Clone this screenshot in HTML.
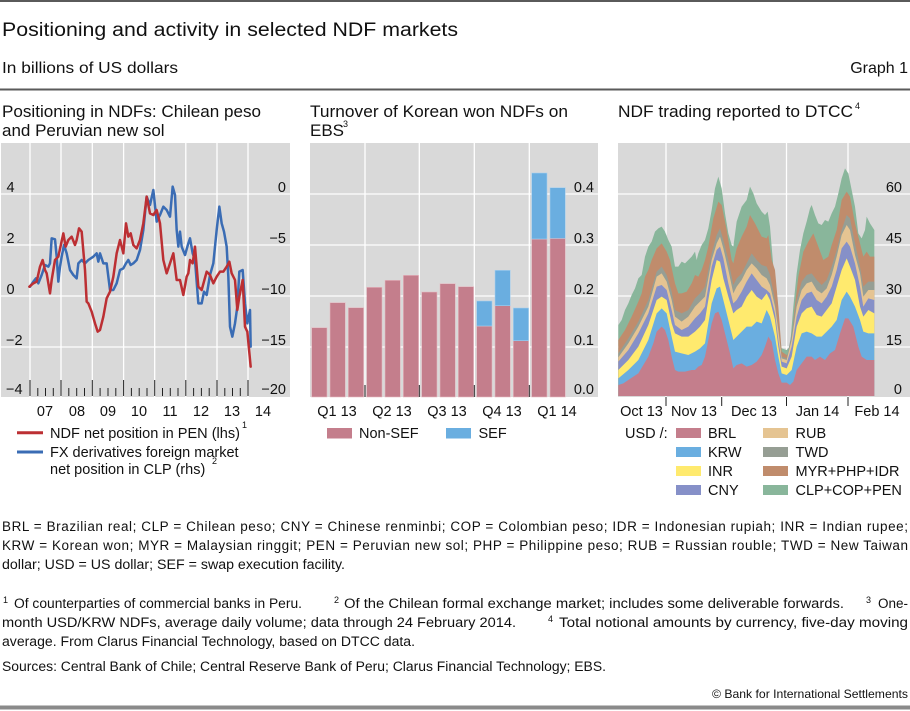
<!DOCTYPE html>
<html><head><meta charset="utf-8"><style>
html,body{margin:0;padding:0;background:#fff;}
svg{display:block;font-family:"Liberation Sans",Arial,sans-serif;}
</style></head><body>
<svg width="910" height="711" viewBox="0 0 910 711" xmlns="http://www.w3.org/2000/svg">
<rect x="0" y="0" width="910" height="711" fill="#fff"/>
<!-- header rules -->
<rect x="0" y="0" width="910" height="2" fill="#5a5a5a"/>
<rect x="0" y="88.5" width="910" height="2" fill="#5a5a5a"/>
<text x="2" y="36" font-size="19" fill="#111" textLength="456" lengthAdjust="spacingAndGlyphs">Positioning and activity in selected NDF markets</text>
<text x="2" y="73" font-size="16" fill="#111" textLength="176" lengthAdjust="spacingAndGlyphs">In billions of US dollars</text>
<text x="908" y="73" font-size="16" fill="#111" text-anchor="end">Graph 1</text>

<!-- ============ PANEL 1 ============ -->
<text x="2" y="117" font-size="17" fill="#111" textLength="259" lengthAdjust="spacingAndGlyphs">Positioning in NDFs: Chilean peso</text>
<text x="2" y="136" font-size="17" fill="#111">and Peruvian new sol</text>
<rect x="1" y="143" width="289" height="254" fill="#d9d9d9"/>
<g stroke="#fff" stroke-width="1.3">
<line x1="1" y1="194" x2="290" y2="194"/><line x1="1" y1="245" x2="290" y2="245"/>
<line x1="1" y1="296" x2="290" y2="296"/><line x1="1" y1="347" x2="290" y2="347"/>
<line x1="30" y1="143" x2="30" y2="397"/><line x1="61" y1="143" x2="61" y2="397"/>
<line x1="92.3" y1="143" x2="92.3" y2="397"/><line x1="123.6" y1="143" x2="123.6" y2="397"/>
<line x1="154.7" y1="143" x2="154.7" y2="397"/><line x1="185.8" y1="143" x2="185.8" y2="397"/>
<line x1="217" y1="143" x2="217" y2="397"/><line x1="248" y1="143" x2="248" y2="397"/>
</g>
<g stroke="#222" stroke-width="1">
<line x1="30" y1="380" x2="30" y2="396"/><line x1="61" y1="380" x2="61" y2="396"/>
<line x1="92.3" y1="380" x2="92.3" y2="396"/><line x1="123.6" y1="380" x2="123.6" y2="396"/>
<line x1="154.7" y1="380" x2="154.7" y2="396"/><line x1="185.8" y1="380" x2="185.8" y2="396"/>
<line x1="217" y1="380" x2="217" y2="396"/><line x1="248" y1="380" x2="248" y2="396"/>
<line x1="37.8" y1="388" x2="37.8" y2="396"/><line x1="45.5" y1="388" x2="45.5" y2="396"/><line x1="53.3" y1="388" x2="53.3" y2="396"/>
<line x1="68.8" y1="388" x2="68.8" y2="396"/><line x1="76.7" y1="388" x2="76.7" y2="396"/><line x1="84.5" y1="388" x2="84.5" y2="396"/>
<line x1="100.1" y1="388" x2="100.1" y2="396"/><line x1="108" y1="388" x2="108" y2="396"/><line x1="115.8" y1="388" x2="115.8" y2="396"/>
<line x1="131.4" y1="388" x2="131.4" y2="396"/><line x1="139.2" y1="388" x2="139.2" y2="396"/><line x1="147" y1="388" x2="147" y2="396"/>
<line x1="162.5" y1="388" x2="162.5" y2="396"/><line x1="170.3" y1="388" x2="170.3" y2="396"/><line x1="178" y1="388" x2="178" y2="396"/>
<line x1="193.6" y1="388" x2="193.6" y2="396"/><line x1="201.4" y1="388" x2="201.4" y2="396"/><line x1="209.2" y1="388" x2="209.2" y2="396"/>
<line x1="224.8" y1="388" x2="224.8" y2="396"/><line x1="232.5" y1="388" x2="232.5" y2="396"/><line x1="240.3" y1="388" x2="240.3" y2="396"/>
</g>
<g font-size="14.5" fill="#111">
<text x="6.5" y="192">4</text><text x="6.5" y="243">2</text><text x="6.5" y="294">0</text>
<text x="6" y="345">−2</text><text x="6" y="394">−4</text>
</g>
<g font-size="14.5" fill="#111" text-anchor="end">
<text x="286" y="192">0</text><text x="286" y="243">−5</text><text x="286" y="294">−10</text>
<text x="286" y="345">−15</text><text x="286" y="394">−20</text>
</g>
<g font-size="14.5" fill="#111" text-anchor="middle">
<text x="45" y="416">07</text><text x="77" y="416">08</text><text x="108" y="416">09</text>
<text x="139" y="416">10</text><text x="170" y="416">11</text><text x="201" y="416">12</text>
<text x="232" y="416">13</text><text x="263" y="416">14</text>
</g>
<g transform="translate(0,90) scale(0.333333)" fill="none" stroke-width="7.5" stroke-linejoin="round" stroke-linecap="round">
<path stroke="#3a6cb4" d="M90,590 L100,575 L108,565 L115,580 L125,555 L135,525 L145,530 L150,520 L155,445 L165,448 L170,500 L175,575 L180,530 L185,500 L192,465 L200,490 L210,540 L220,555 L230,565 L235,520 L245,510 L255,520 L265,510 L280,500 L290,490 L295,515 L300,490 L310,520 L320,520 L330,600 L340,600 L350,580 L360,540 L370,535 L378,520 L385,510 L392,525 L400,520 L410,510 L420,480 L430,420 L440,320 L450,345 L460,300 L470,395 L480,375 L490,350 L500,360 L510,380 L518,290 L525,315 L530,420 L535,470 L540,425 L545,470 L555,495 L565,460 L570,445 L578,490 L585,510 L595,640 L605,640 L612,605 L620,615 L630,555 L640,520 L650,420 L658,350 L665,400 L672,425 L680,470 L685,560 L690,710 L697,740 L705,700 L712,650 L718,545 L728,540 L735,640 L742,700 L750,660 L752,770"/>
<path stroke="#bc2f33" d="M88,590 L100,580 L110,575 L120,530 L128,510 L135,540 L140,550 L150,610 L155,570 L165,510 L175,500 L190,430 L197,470 L205,450 L215,440 L225,465 L230,450 L237,415 L245,425 L255,540 L260,635 L265,640 L275,665 L285,700 L293,725 L300,720 L310,680 L320,625 L330,605 L340,560 L350,490 L360,450 L370,490 L378,400 L385,440 L392,430 L400,465 L410,475 L420,450 L430,400 L440,320 L450,370 L460,375 L470,360 L480,400 L490,510 L500,550 L510,520 L520,490 L530,570 L540,570 L550,615 L560,560 L565,550 L570,510 L578,520 L585,470 L595,590 L605,600 L620,545 L630,555 L640,580 L650,560 L660,545 L670,545 L680,530 L688,515 L695,550 L705,570 L712,660 L718,620 L728,570 L735,710 L742,725 L752,830"/>
</g>
<line x1="17" y1="432.7" x2="43" y2="432.7" stroke="#bc2f33" stroke-width="3"/>
<line x1="17" y1="452" x2="43" y2="452" stroke="#3a6cb4" stroke-width="3"/>
<g font-size="14.5" fill="#111">
<text x="50" y="438" textLength="190" lengthAdjust="spacingAndGlyphs">NDF net position in PEN (lhs)</text>
<text x="242" y="428" font-size="9">1</text>
<text x="50" y="457">FX derivatives foreign market</text>
<text x="50" y="474">net position in CLP (rhs)</text>
<text x="212" y="464" font-size="9">2</text>
</g>

<!-- ============ PANEL 2 ============ -->
<text x="310" y="117" font-size="17" fill="#111" textLength="258" lengthAdjust="spacingAndGlyphs">Turnover of Korean won NDFs on</text>
<text x="310" y="136" font-size="17" fill="#111">EBS</text>
<text x="343" y="127" font-size="9" fill="#111">3</text>
<rect x="310" y="143" width="288" height="254" fill="#d9d9d9"/>
<g stroke="#fff" stroke-width="1.3">
<line x1="310" y1="194" x2="598" y2="194"/><line x1="310" y1="245" x2="598" y2="245"/>
<line x1="310" y1="296" x2="598" y2="296"/><line x1="310" y1="347" x2="598" y2="347"/>
<line x1="365" y1="143" x2="365" y2="397"/><line x1="419.3" y1="143" x2="419.3" y2="397"/>
<line x1="474.3" y1="143" x2="474.3" y2="397"/><line x1="529.3" y1="143" x2="529.3" y2="397"/>
</g>
<g stroke="#e6b9c2" stroke-width="0.6" fill="#c47e8c">
<rect x="311.7" y="327.7" width="15.3" height="69.3"/>
<rect x="330" y="302.7" width="15.3" height="94.3"/>
<rect x="348.3" y="307.7" width="15.3" height="89.3"/>
<rect x="366.7" y="287.3" width="15.3" height="109.7"/>
<rect x="385" y="280.3" width="15.3" height="116.7"/>
<rect x="403.3" y="275.3" width="15.3" height="121.7"/>
<rect x="421.7" y="292" width="15.3" height="105"/>
<rect x="440" y="283.7" width="15.3" height="113.3"/>
<rect x="458.3" y="286.7" width="15.3" height="110.3"/>
<rect x="476.7" y="326" width="15.3" height="71"/>
<rect x="495" y="305.7" width="15.3" height="91.3"/>
<rect x="513.3" y="340.7" width="15.3" height="56.3"/>
<rect x="531.7" y="239" width="15.3" height="158"/>
<rect x="550" y="238.3" width="15.3" height="158.7"/>
</g>
<g stroke="#a9d0ee" stroke-width="0.6" fill="#6aaee0">
<rect x="476.7" y="301" width="15.3" height="25"/>
<rect x="495" y="270.3" width="15.3" height="35.4"/>
<rect x="513.3" y="308" width="15.3" height="32.7"/>
<rect x="531.7" y="173" width="15.3" height="66"/>
<rect x="550" y="187.7" width="15.3" height="50.6"/>
</g>
<g stroke="#222" stroke-width="1">
<line x1="365" y1="385" x2="365" y2="397"/><line x1="419.3" y1="385" x2="419.3" y2="397"/>
<line x1="474.3" y1="385" x2="474.3" y2="397"/><line x1="529.3" y1="385" x2="529.3" y2="397"/>
</g>
<g font-size="14.5" fill="#111" text-anchor="end">
<text x="594" y="192">0.4</text><text x="594" y="243">0.3</text><text x="594" y="294">0.2</text>
<text x="594" y="345">0.1</text><text x="594" y="394">0.0</text>
</g>
<g font-size="14.5" fill="#111" text-anchor="middle">
<text x="337" y="416">Q1 13</text><text x="392" y="416">Q2 13</text><text x="447" y="416">Q3 13</text>
<text x="502" y="416">Q4 13</text><text x="557" y="416">Q1 14</text>
</g>
<rect x="327" y="428" width="25" height="10.5" fill="#c47e8c"/>
<text x="359" y="438" font-size="14.5" fill="#111">Non-SEF</text>
<rect x="446" y="428" width="25" height="10.5" fill="#6aaee0"/>
<text x="478.5" y="438" font-size="14.5" fill="#111">SEF</text>

<!-- ============ PANEL 3 ============ -->
<text x="618" y="117" font-size="17" fill="#111" textLength="235" lengthAdjust="spacingAndGlyphs">NDF trading reported to DTCC</text>
<text x="855" y="109" font-size="9" fill="#111">4</text>
<rect x="618" y="143" width="292" height="254" fill="#d9d9d9"/>
<g stroke="#fff" stroke-width="1.3">
<line x1="618" y1="194" x2="910" y2="194"/><line x1="618" y1="245" x2="910" y2="245"/>
<line x1="618" y1="296" x2="910" y2="296"/><line x1="618" y1="347" x2="910" y2="347"/>
<line x1="666" y1="143" x2="666" y2="397"/><line x1="721.7" y1="143" x2="721.7" y2="397"/>
<line x1="786.5" y1="143" x2="786.5" y2="397"/><line x1="848" y1="143" x2="848" y2="397"/>
</g>
<g transform="translate(615,160) scale(0.333333)" stroke="none">
<path fill="#89b69b" d="M10,708 L10,495 20,480 30,450 40,430 50,405 60,385 70,355 80,345 90,290 100,260 110,245 120,215 130,205 140,200 150,215 160,240 170,260 180,320 190,320 200,305 210,310 220,300 230,290 240,275 245,300 250,280 260,255 270,240 280,205 290,150 300,85 310,50 320,85 330,160 340,220 350,255 355,260 365,185 380,140 395,120 405,80 415,100 425,130 440,155 450,165 458,155 465,200 475,320 485,440 495,540 500,565 515,570 525,560 535,440 545,340 555,270 565,220 575,185 585,145 590,135 600,165 610,190 620,195 630,180 640,185 650,160 660,140 670,100 680,55 690,25 700,40 710,90 720,140 730,220 740,235 750,210 755,170 765,190 778,210 L778,708 Z"/>
<path fill="#c08c6c" d="M10,708 L10,540 30,510 50,470 70,425 80,400 90,350 100,330 110,300 125,265 140,250 155,275 165,300 180,370 190,400 200,400 215,395 230,370 240,345 250,350 260,330 270,300 280,260 295,175 310,125 320,135 335,210 350,300 355,310 365,265 380,230 395,200 405,165 420,190 440,230 455,235 460,225 470,300 480,330 490,440 500,575 515,585 525,580 535,480 550,350 565,275 580,245 595,220 610,260 625,300 640,290 650,255 665,210 680,120 695,95 705,110 720,190 735,250 745,290 755,275 765,290 778,290 L778,708 Z"/>
<path fill="#969e94" d="M10,708 L10,580 40,535 70,485 100,420 125,335 140,320 155,345 170,395 180,450 200,460 220,450 240,415 255,400 270,380 290,280 305,225 315,205 325,240 340,300 355,375 365,355 380,340 395,310 410,280 425,300 440,315 455,320 465,345 480,420 490,500 500,590 515,595 530,520 545,420 560,365 575,345 590,340 605,360 620,375 635,360 650,320 665,270 680,210 695,165 705,175 720,250 735,320 745,380 760,365 778,365 L778,708 Z"/>
<path fill="#e5c492" d="M10,708 L10,592 40,550 70,500 100,440 125,350 140,340 155,365 170,420 180,470 200,485 220,470 240,440 255,425 270,410 290,300 305,250 315,230 325,265 340,330 355,400 365,380 380,360 395,330 410,310 425,325 440,345 455,355 465,375 480,440 490,510 500,595 515,600 530,540 545,440 560,390 575,370 590,365 605,390 620,400 635,385 650,345 665,290 680,225 695,195 705,210 720,285 735,340 745,410 760,390 778,390 L778,708 Z"/>
<path fill="#8690c8" d="M10,708 L10,605 40,570 70,520 100,460 125,380 140,375 155,390 170,450 180,495 200,510 220,500 240,475 255,460 270,440 290,320 305,270 315,260 325,295 340,370 355,430 365,420 380,395 395,365 410,340 425,360 440,380 455,390 465,400 480,460 490,540 500,605 515,610 530,560 545,470 560,420 575,400 590,395 605,420 620,430 635,410 650,380 665,330 680,265 695,245 705,260 720,310 735,380 745,440 760,415 778,420 L778,708 Z"/>
<path fill="#ffea6e" d="M10,708 L10,630 40,600 70,560 100,495 125,420 140,410 155,420 170,490 180,520 200,530 220,530 240,515 255,500 270,480 290,360 305,300 315,305 325,355 340,410 355,460 365,450 380,440 395,410 410,390 425,410 440,420 455,400 465,420 480,480 490,560 500,620 515,625 530,590 545,500 560,460 575,445 590,440 605,465 620,470 635,450 650,430 665,380 680,330 695,295 705,320 720,360 735,440 745,470 760,450 778,460 L778,708 Z"/>
<path fill="#6aaee0" d="M10,708 L10,655 40,630 70,600 100,540 125,460 140,445 155,460 170,530 180,575 200,580 220,585 240,575 255,565 270,550 290,430 305,385 315,380 325,420 340,480 355,540 365,530 380,515 395,500 410,500 425,485 440,490 455,450 465,470 480,530 490,590 500,640 515,645 530,630 545,560 560,520 575,515 590,520 605,530 620,530 635,515 650,500 665,480 680,420 695,395 705,410 720,440 735,480 745,515 760,520 778,520 L778,708 Z"/>
<path fill="#c47e8c" d="M10,708 L10,675 25,670 40,660 55,650 70,640 85,615 100,590 115,550 125,515 140,500 150,510 160,540 170,590 180,630 190,635 210,635 230,630 240,630 250,620 260,615 270,590 280,540 290,490 300,460 310,455 320,480 330,520 345,580 355,625 365,615 380,610 395,620 410,615 425,605 440,585 450,560 460,530 470,545 480,600 490,640 500,668 515,668 525,675 535,665 545,630 560,610 575,590 590,590 600,600 615,590 630,600 645,580 660,570 675,520 690,475 700,475 715,500 730,560 740,590 755,600 765,600 778,600 L778,708 Z"/>
</g>
<g stroke="#222" stroke-width="1">
<line x1="666" y1="397" x2="666" y2="406"/><line x1="721.7" y1="397" x2="721.7" y2="406"/>
<line x1="786.5" y1="397" x2="786.5" y2="406"/><line x1="848" y1="397" x2="848" y2="406"/>
</g>
<g font-size="14.5" fill="#111" text-anchor="end">
<text x="902" y="192">60</text><text x="902" y="243">45</text><text x="902" y="294">30</text>
<text x="902" y="345">15</text><text x="902" y="394">0</text>
</g>
<g font-size="14.5" fill="#111" text-anchor="middle">
<text x="641.5" y="416">Oct 13</text><text x="694" y="416">Nov 13</text><text x="754" y="416">Dec 13</text>
<text x="817.5" y="416">Jan 14</text><text x="877" y="416">Feb 14</text>
</g>
<text x="625" y="438" font-size="14.5" fill="#111">USD /:</text>
<rect x="676" y="428" width="25" height="10" fill="#c47e8c"/>
<rect x="676" y="447" width="25" height="10" fill="#6aaee0"/>
<rect x="676" y="466" width="25" height="10" fill="#ffea6e"/>
<rect x="676" y="485" width="25" height="10" fill="#8690c8"/>
<rect x="763" y="428" width="25" height="10" fill="#e5c492"/>
<rect x="763" y="447" width="25" height="10" fill="#969e94"/>
<rect x="763" y="466" width="25" height="10" fill="#c08c6c"/>
<rect x="763" y="485" width="25" height="10" fill="#89b69b"/>
<g font-size="14.5" fill="#111">
<text x="708" y="438">BRL</text><text x="708" y="457">KRW</text><text x="708" y="476">INR</text><text x="708" y="495">CNY</text>
<text x="795.5" y="438">RUB</text><text x="795.5" y="457">TWD</text><text x="795.5" y="476">MYR+PHP+IDR</text><text x="795.5" y="495">CLP+COP+PEN</text>
</g>

<!-- ============ FOOTER ============ -->
<g font-size="13.5" fill="#111">
<text x="2" y="531" textLength="906" lengthAdjust="spacing">BRL = Brazilian real; CLP = Chilean peso; CNY = Chinese renminbi; COP = Colombian peso; IDR = Indonesian rupiah; INR = Indian rupee;</text>
<text x="2" y="550" textLength="906" lengthAdjust="spacing">KRW = Korean won; MYR = Malaysian ringgit; PEN = Peruvian new sol; PHP = Philippine peso; RUB = Russian rouble; TWD = New Taiwan</text>
<text x="2" y="569" textLength="343" lengthAdjust="spacingAndGlyphs">dollar; USD = US dollar; SEF = swap execution facility.</text>
<text x="3" y="603" font-size="9">1</text>
<text x="14" y="608" textLength="288" lengthAdjust="spacingAndGlyphs">Of counterparties of commercial banks in Peru.</text>
<text x="334" y="603" font-size="9">2</text>
<text x="344" y="608" textLength="500" lengthAdjust="spacingAndGlyphs">Of the Chilean formal exchange market; includes some deliverable forwards.</text>
<text x="866" y="603" font-size="9">3</text>
<text x="908" y="608" text-anchor="end">One-</text>
<text x="2" y="627" textLength="514" lengthAdjust="spacingAndGlyphs">month USD/KRW NDFs, average daily volume; data through 24 February 2014.</text>
<text x="548" y="622" font-size="9">4</text>
<text x="559" y="627" textLength="349" lengthAdjust="spacingAndGlyphs">Total notional amounts by currency, five-day moving</text>
<text x="2" y="646" textLength="413" lengthAdjust="spacingAndGlyphs">average. From Clarus Financial Technology, based on DTCC data.</text>
<text x="2" y="671" textLength="604" lengthAdjust="spacingAndGlyphs">Sources: Central Bank of Chile; Central Reserve Bank of Peru; Clarus Financial Technology; EBS.</text>
<text x="908" y="698" font-size="12" text-anchor="end" textLength="196" lengthAdjust="spacingAndGlyphs">© Bank for International Settlements</text>
</g>
<rect x="0" y="705.5" width="910" height="4" fill="#8a8a8a"/>
</svg>
</body></html>
